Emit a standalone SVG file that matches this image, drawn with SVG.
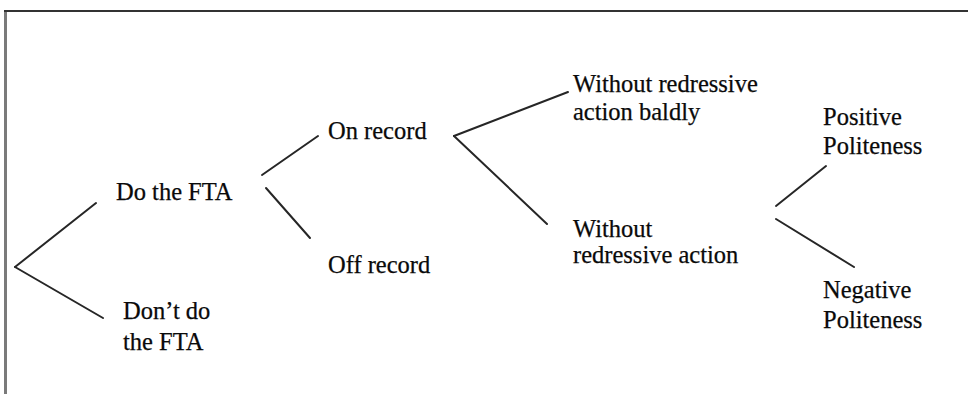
<svg xmlns="http://www.w3.org/2000/svg" width="968" height="394" viewBox="0 0 968 394">
<style>
.t{font-family:"Liberation Serif","Times New Roman",serif;font-size:24.5px;fill:#0a0a0a;stroke:#0a0a0a;stroke-width:0.25}
.c line{stroke:#262626;stroke-width:2;stroke-linecap:round}
</style>
<rect width="968" height="394" fill="#fff"/>
<g id="frame">
<line x1="5.5" y1="10" x2="5.5" y2="394" stroke="#7a7a7a" stroke-width="3"/>
<line x1="4" y1="11" x2="968" y2="11" stroke="#333" stroke-width="2"/>
</g>
<g class="c" id="connectors">
<line x1="15" y1="267" x2="96" y2="203"/>
<line x1="15" y1="267" x2="103" y2="318"/>
<line x1="262" y1="175" x2="318" y2="136"/>
<line x1="266" y1="188" x2="310" y2="238"/>
<line x1="454" y1="136" x2="568" y2="92"/>
<line x1="454" y1="136" x2="547" y2="224"/>
<line x1="776" y1="206" x2="826" y2="166"/>
<line x1="776" y1="219" x2="854" y2="267"/>
</g>
<g id="do"><text class="t" x="116" y="200">Do the FTA</text></g>
<g id="dont"><text class="t" x="123" y="319">Don’t do</text><text class="t" x="123" y="350">the FTA</text></g>
<g id="on"><text class="t" x="328" y="139">On record</text></g>
<g id="off"><text class="t" x="328" y="273">Off record</text></g>
<g id="bald"><text class="t" x="573" y="92">Without redressive</text><text class="t" x="573" y="120">action baldly</text></g>
<g id="redress"><text class="t" x="573" y="237">Without</text><text class="t" x="573" y="263">redressive action</text></g>
<g id="pos"><text class="t" x="823" y="125">Positive</text><text class="t" x="823" y="154">Politeness</text></g>
<g id="neg"><text class="t" x="823" y="298">Negative</text><text class="t" x="823" y="328">Politeness</text></g>
</svg>
